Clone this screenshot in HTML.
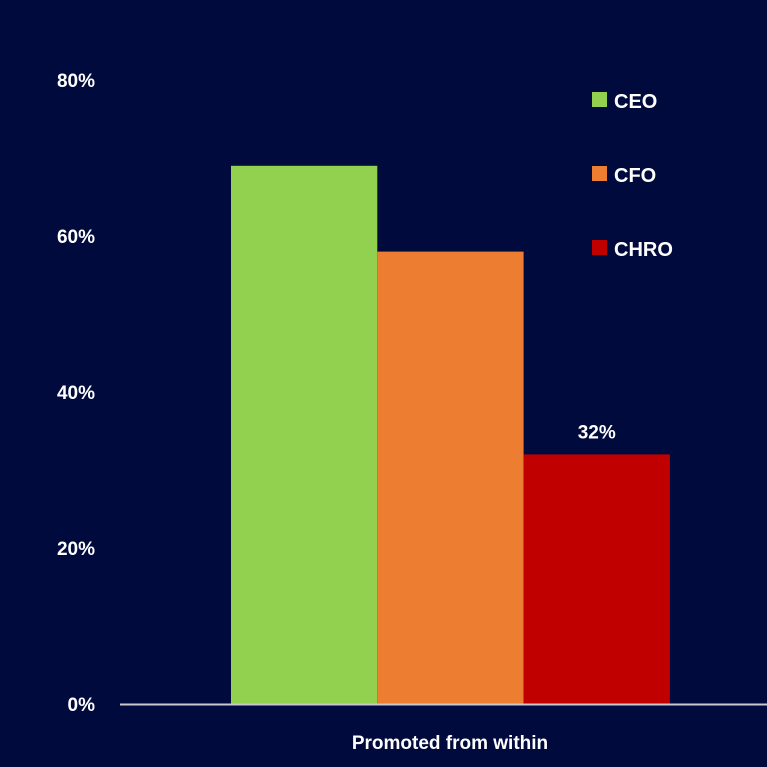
<!DOCTYPE html>
<html><head><meta charset="utf-8"><style>
html,body{margin:0;padding:0;background:#000a3c;}
svg{display:block;font-family:"Liberation Sans",sans-serif;font-weight:bold;}
</style></head><body>
<svg id="chart" width="767" height="767" viewBox="0 0 767 767">
<rect width="767" height="767" fill="#000a3c"/>
<g id="yaxis"></g>
<g id="bars"></g>
<line x1="120" y1="704.5" x2="767" y2="704.5" stroke="#c8c8d0" stroke-width="2"/>
<text x="450" y="749" fill="#fff" font-size="19" text-anchor="middle">Promoted from within</text>
<g id="legend"></g>
</svg>
<script>
const series = ["CEO", "CFO", "CHRO"];
const values = [69, 58, 32];
const colors = ["#92d050", "#ed7d31", "#c00000"];
const ticks = [0, 20, 40, 60, 80];
const printed = [null, null, "32%"];

const ns = "http://www.w3.org/2000/svg";
const y0 = 704, pxPer = 7.8;
const yScale = v => y0 - v * pxPer;
const barX0 = 231, barW = 146.3;
const xScale = i => barX0 + i * barW;

function mk(tag, attrs, parent) {
  const e = document.createElementNS(ns, tag);
  for (const k in attrs) e.setAttribute(k, attrs[k]);
  parent.appendChild(e);
  return e;
}
const yg = document.getElementById("yaxis");
ticks.forEach(t => {
  const tx = mk("text", {x: 95, y: yScale(t) + 7, fill: "#fff", "font-size": 19, "text-anchor": "end"}, yg);
  tx.textContent = t + "%";
  
  
});
const bg = document.getElementById("bars");
values.forEach((v, i) => {
  const r = mk("rect", {x: xScale(i), y: yScale(v), width: barW, height: y0 - yScale(v), fill: colors[i]}, bg);
  
  
  if (printed[i]) {
    const t = mk("text", {x: xScale(i) + barW / 2, y: yScale(v) - 16, fill: "#fff", "font-size": 19, "text-anchor": "middle"}, bg);
    t.textContent = printed[i];
    
    
  }
});
const lg = document.getElementById("legend");
series.forEach((s, i) => {
  const y = 101 + i * 74;
  const sw = mk("rect", {x: 592, y: y - 9, width: 15, height: 15, fill: colors[i]}, lg);
  
  
  const t = mk("text", {x: 614, y: y + 7, fill: "#fff", "font-size": 20}, lg);
  t.textContent = s;
  
  
});
</script>
</body></html>
